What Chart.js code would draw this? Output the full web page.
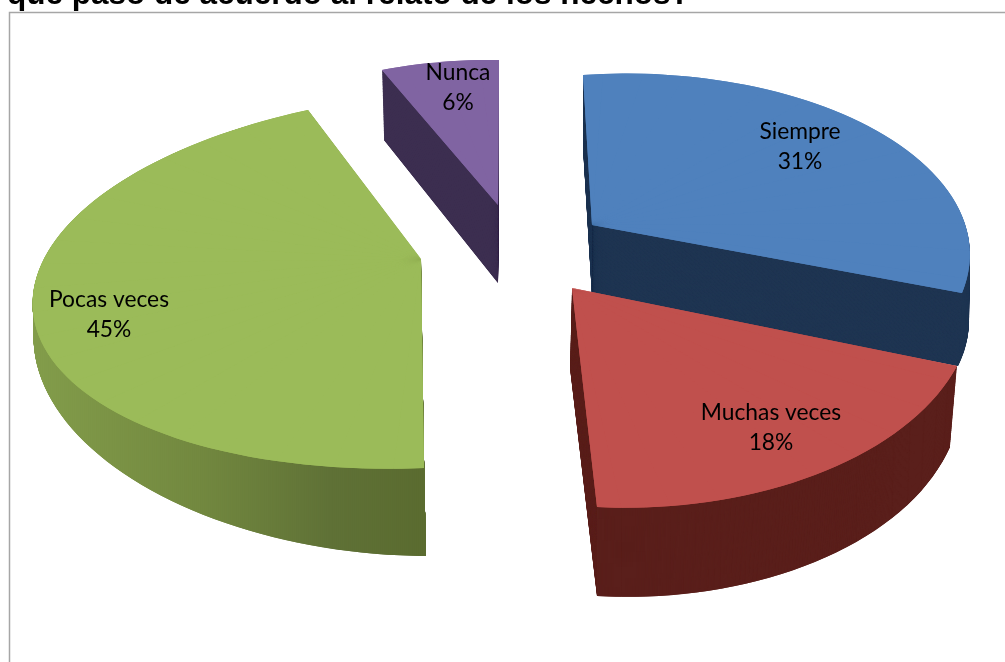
<!DOCTYPE html>
<html><head><meta charset="utf-8">
<style>html,body{margin:0;padding:0;background:#fff;overflow:hidden}canvas{display:block}</style>
<script src="https://cdn.jsdelivr.net/npm/chart.js@4"></script>
</head><body><canvas id="c" width="1005" height="662"></canvas>
<script>
const titleText = "qué pasó de acuerdo al relato de los hechos?";
const categories = ["Siempre","Muchas veces","Pocas veces","Nunca"];
const values = [31,18,45,6];
const topColors = ["#4f81bd","#c0504d","#9bbb59","#8064a2"];
const sideColors = ["#1f3552","#5a1f1b",null,"#3c2e50"];
const greenSideStops = [[37,"#829c4a"],[200,"#72883f"],[330,"#5f7136"],[426,"#5a6b2f"]];
// perspective view of each exploded slice: where tip, arc start, arc end, arc middle land, for top and bottom faces
const views = [
 {top:[[592,225],[583,75],[962,293],[860,122]],bot:[[592,296],[583,147],[958,366],[860,190]],label:[800,147]},
 {top:[[572,288],[957,366],[597,507],[815,475]],bot:[[570,368],[950,447],[597,596],[815,562]],label:[771,428]},
 {top:[[421,259],[424,468],[308,110],[33,312]],bot:[[421,347],[426,556],[306,155],[37,365]],label:[109,315]},
 {top:[[498,205],[499,60],[382,70],[440,62]],bot:[[498,283],[499,138],[384,140],[440,132]],label:[458,88]}
];
const drawOrder = [3,2,0,1];
const layers = 90;
const wedgeStep = 8*Math.PI/180;

function solve(A,b){
  const n=b.length, M=A.map((r,i)=>r.concat(b[i]));
  for(let i=0;i<n;i++){
    let p=i; for(let r=i+1;r<n;r++) if(Math.abs(M[r][i])>Math.abs(M[p][i])) p=r;
    [M[i],M[p]]=[M[p],M[i]];
    for(let r=0;r<n;r++){ if(r===i) continue; const f=M[r][i]/M[i][i]; for(let c=i;c<=n;c++) M[r][c]-=f*M[i][c]; }
  }
  return M.map((r,i)=>r[n]/r[i]);
}
function homography(src,dst){
  const A=[],b=[];
  src.forEach((p,i)=>{
    const [x,y]=p,[u,v]=dst[i];
    A.push([x,y,1,0,0,0,-u*x,-u*y]); b.push(u);
    A.push([0,0,0,x,y,1,-v*x,-v*y]); b.push(v);
  });
  const h=solve(A,b);
  return (x,y)=>{const w=h[6]*x+h[7]*y+1; return [(h[0]*x+h[1]*y+h[2])/w,(h[3]*x+h[4]*y+h[5])/w];};
}
function mix(a,b,t){return [a[0]+(b[0]-a[0])*t,a[1]+(b[1]-a[1])*t];}
function place(ctx,seg,v,s,e){
  const R=seg.outerRadius, sx=R*Math.cos(seg.startAngle), sy=R*Math.sin(seg.startAngle),
        ex=R*Math.cos(seg.endAngle), ey=R*Math.sin(seg.endAngle), det=sx*ey-ex*sy;
  const tx=s[0]-v[0], ty=s[1]-v[1], ux=e[0]-v[0], uy=e[1]-v[1];
  const a=(tx*ey-ux*sy)/det, c=(ux*sx-tx*ex)/det, b=(ty*ey-uy*sy)/det, d=(uy*sx-ty*ex)/det;
  ctx.setTransform(a,b,c,d,v[0]-a*seg.x-c*seg.y,v[1]-b*seg.x-d*seg.y);
}
function greenPattern(ctx){
  const g=document.createElement('canvas'); g.width=1005; g.height=1;
  const x0=greenSideStops[0][0], x1=greenSideStops[greenSideStops.length-1][0];
  const gc=g.getContext('2d'), lg=gc.createLinearGradient(x0,0,x1,0);
  greenSideStops.forEach(p=>lg.addColorStop((p[0]-x0)/(x1-x0),p[1]));
  gc.fillStyle=lg; gc.fillRect(0,0,1005,1);
  return ctx.createPattern(g,'repeat');
}
function drawSlice(ctx,arc,i,pat){
  const a0=arc.startAngle,a1=arc.endAngle,am=(a0+a1)/2,w=views[i];
  const src=[[0,0],[Math.cos(a0),Math.sin(a0)],[Math.cos(a1),Math.sin(a1)],[Math.cos(am),Math.sin(am)]];
  const Ht=homography(src,w.top), Hb=homography(src,w.bot);
  const n=Math.max(1,Math.ceil((a1-a0)/wedgeStep)), da=(a1-a0)/n;
  const mkPass=(bounds)=>{
    const out=[];
    for(let j=0;j<bounds.length-1;j++){
      const s=bounds[j], e=bounds[j+1], mk=H=>[H(0,0),H(Math.cos(s),Math.sin(s)),H(Math.cos(e),Math.sin(e))];
      out.push({s,e,t:mk(Ht),b:mk(Hb)});
    }
    return out;
  };
  // two passes with staggered wedge boundaries so no seam stays visible
  const b1=[],b2=[a0];
  for(let j=0;j<=n;j++) b1.push(a0+j*da);
  for(let j=0;j<n;j++) b2.push(a0+(j+0.5)*da);
  b2.push(a1);
  const wedges=mkPass(b1).concat(mkPass(b2));
  for(let k=layers;k>=0;k--){
    const t=k/layers;
    let col=topColors[i];
    if(k>0) col=sideColors[i]||pat;
    wedges.forEach(c=>{
      const seg=Object.create(arc);
      seg.startAngle=c.s; seg.endAngle=c.e; seg.circumference=c.e-c.s;
      seg.options=Object.create(arc.options,{backgroundColor:{value:col}});
      ctx.save();
      place(ctx,seg,mix(c.t[0],c.b[0],t),mix(c.t[1],c.b[1],t),mix(c.t[2],c.b[2],t));
      if(col===pat) pat.setTransform(ctx.getTransform().inverse());
      seg.draw(ctx);
      ctx.restore();
    });
  }
}
const pie3d={
  id:'pie3d',
  beforeDraw(chart){
    const ctx=chart.ctx;
    ctx.save();
    ctx.fillStyle='#fff'; ctx.fillRect(0,0,1005,662);
    ctx.strokeStyle='#a6a6a6'; ctx.lineWidth=1.5;
    ctx.beginPath(); ctx.moveTo(9.5,662); ctx.lineTo(9.5,12.5); ctx.lineTo(1005,12.5); ctx.stroke();
    ctx.fillStyle='#000'; ctx.font='bold 31.5px "Liberation Sans"'; ctx.textBaseline='alphabetic'; ctx.textAlign='left';
    ctx.fillText(titleText,7,4);
    ctx.restore();
  },
  beforeDatasetsDraw(chart){
    const ctx=chart.ctx, arcs=chart.getDatasetMeta(0).data, pat=greenPattern(ctx);
    drawOrder.forEach(i=>drawSlice(ctx,arcs[i],i,pat));
    return false;
  },
  afterDraw(chart){
    const ctx=chart.ctx, total=values.reduce((a,b)=>a+b,0);
    ctx.save();
    ctx.fillStyle='#000'; ctx.font='22.8px Lato'; ctx.textAlign='center'; ctx.textBaseline='middle';
    categories.forEach((name,i)=>{
      const [x,y]=views[i].label;
      ctx.fillText(name,x,y-15);
      ctx.fillText(Math.round(values[i]/total*100)+'%',x,y+15);
    });
    ctx.restore();
  }
};
new Chart(document.getElementById('c'),{
  type:'pie',
  data:{labels:categories,datasets:[{data:values,backgroundColor:topColors,borderWidth:0}]},
  options:{responsive:false,animation:false,
    plugins:{legend:{display:false},tooltip:{enabled:false}},
    layout:{padding:20}},
  plugins:[pie3d]
});
</script></body></html>
